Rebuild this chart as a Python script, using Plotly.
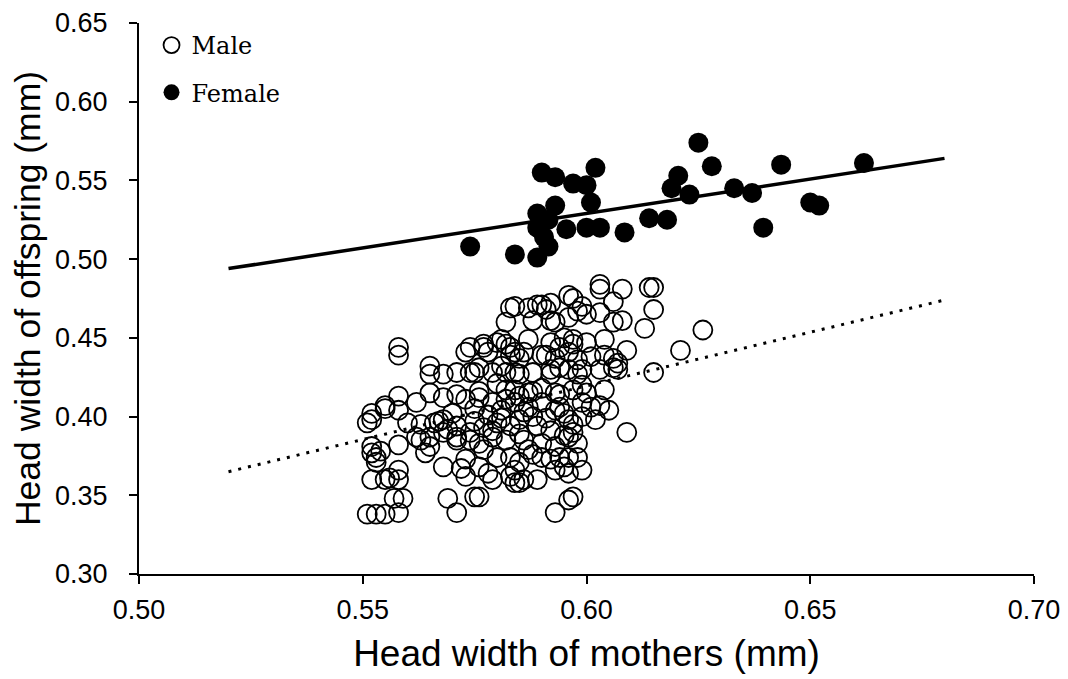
import plotly.graph_objects as go

# Female (filled circles)
female_x = [0.574, 0.584, 0.589, 0.590, 0.593, 0.597, 0.600, 0.602, 0.601, 0.589, 0.593,
            0.5915, 0.589, 0.5955, 0.600, 0.603, 0.5905, 0.5915, 0.6085, 0.614, 0.618,
            0.619, 0.6205, 0.623, 0.625, 0.628, 0.633, 0.637, 0.6395, 0.6435, 0.650,
            0.652, 0.662]
female_y = [0.508, 0.503, 0.501, 0.555, 0.552, 0.548, 0.547, 0.558, 0.536, 0.529, 0.534,
            0.525, 0.520, 0.519, 0.520, 0.520, 0.514, 0.508, 0.517, 0.526, 0.525,
            0.545, 0.553, 0.541, 0.574, 0.559, 0.545, 0.542, 0.520, 0.560, 0.536,
            0.534, 0.561]

# Male (open circles)
male_x = [0.584, 0.582, 0.558, 0.558, 0.573, 0.577, 0.580, 0.582, 0.578, 0.584,
          0.565, 0.565, 0.568, 0.571, 0.574, 0.576, 0.579, 0.581, 0.584, 0.580,
          0.558, 0.555, 0.552, 0.551, 0.562, 0.565, 0.568, 0.571, 0.573, 0.576,
          0.579, 0.582, 0.585, 0.560, 0.563, 0.567, 0.569, 0.571, 0.575, 0.577,
          0.580, 0.583, 0.552, 0.553, 0.553, 0.558, 0.563, 0.565, 0.571, 0.574,
          0.576, 0.579, 0.582, 0.568, 0.573, 0.576, 0.578, 0.579, 0.584, 0.584,
          0.552, 0.555, 0.558, 0.558, 0.557, 0.559, 0.569, 0.575, 0.576, 0.551,
          0.553, 0.555, 0.558, 0.571, 0.552, 0.555, 0.558, 0.566, 0.568, 0.552,
          0.554, 0.562, 0.565, 0.568, 0.571, 0.564, 0.572, 0.556, 0.603, 0.603,
          0.608, 0.614, 0.615, 0.587, 0.590, 0.592, 0.596, 0.597, 0.599, 0.603,
          0.606, 0.615, 0.588, 0.592, 0.596, 0.600, 0.606, 0.608, 0.613, 0.581,
          0.583, 0.587, 0.592, 0.595, 0.597, 0.597, 0.600, 0.604, 0.609, 0.583,
          0.585, 0.590, 0.593, 0.596, 0.598, 0.601, 0.604, 0.606, 0.582, 0.585,
          0.588, 0.592, 0.594, 0.596, 0.599, 0.603, 0.607, 0.615, 0.584, 0.587,
          0.590, 0.593, 0.597, 0.599, 0.600, 0.604, 0.584, 0.587, 0.590, 0.594,
          0.599, 0.601, 0.603, 0.605, 0.581, 0.585, 0.588, 0.591, 0.596, 0.599,
          0.602, 0.586, 0.590, 0.595, 0.596, 0.597, 0.598, 0.609, 0.583, 0.585,
          0.588, 0.592, 0.596, 0.598, 0.586, 0.589, 0.593, 0.596, 0.599, 0.596,
          0.597, 0.593, 0.607, 0.621, 0.606, 0.626, 0.590, 0.585, 0.583, 0.573,
          0.594, 0.595, 0.587, 0.580, 0.577, 0.593, 0.595, 0.583, 0.589, 0.591,
          0.593, 0.598, 0.577, 0.586, 0.591, 0.594, 0.574, 0.575, 0.592, 0.598,
          0.576, 0.582, 0.588, 0.594, 0.575, 0.578, 0.586, 0.589, 0.592, 0.579,
          0.574, 0.585, 0.597, 0.593, 0.581, 0.570]
male_y = [0.470, 0.460, 0.444, 0.439, 0.441, 0.444, 0.447, 0.446, 0.441, 0.441,
          0.432, 0.427, 0.427, 0.428, 0.428, 0.431, 0.428, 0.432, 0.428, 0.421,
          0.413, 0.407, 0.402, 0.396, 0.409, 0.415, 0.412, 0.414, 0.411, 0.412,
          0.409, 0.411, 0.413, 0.396, 0.395, 0.397, 0.392, 0.394, 0.397, 0.393,
          0.396, 0.394, 0.381, 0.374, 0.371, 0.382, 0.385, 0.381, 0.385, 0.385,
          0.383, 0.387, 0.385, 0.368, 0.373, 0.368, 0.364, 0.360, 0.366, 0.358,
          0.360, 0.360, 0.366, 0.360, 0.348, 0.348, 0.348, 0.349, 0.349, 0.338,
          0.338, 0.338, 0.339, 0.339, 0.398, 0.405, 0.404, 0.396, 0.398, 0.377,
          0.378, 0.387, 0.387, 0.390, 0.387, 0.377, 0.367, 0.361, 0.484, 0.481,
          0.481, 0.482, 0.482, 0.469, 0.471, 0.472, 0.477, 0.475, 0.470, 0.466,
          0.473, 0.468, 0.461, 0.461, 0.463, 0.465, 0.460, 0.461, 0.456, 0.449,
          0.444, 0.449, 0.447, 0.450, 0.449, 0.446, 0.447, 0.449, 0.442, 0.439,
          0.437, 0.439, 0.437, 0.441, 0.436, 0.438, 0.439, 0.437, 0.428, 0.427,
          0.428, 0.430, 0.431, 0.430, 0.430, 0.430, 0.430, 0.428, 0.417, 0.415,
          0.418, 0.415, 0.417, 0.420, 0.415, 0.417, 0.409, 0.406, 0.409, 0.406,
          0.409, 0.406, 0.407, 0.404, 0.399, 0.398, 0.400, 0.399, 0.398, 0.400,
          0.398, 0.385, 0.383, 0.388, 0.387, 0.390, 0.383, 0.390, 0.374, 0.371,
          0.376, 0.373, 0.374, 0.374, 0.360, 0.360, 0.366, 0.364, 0.366, 0.347,
          0.349, 0.339, 0.434, 0.442, 0.431, 0.455, 0.374, 0.358, 0.362, 0.362,
          0.374, 0.368, 0.379, 0.374, 0.379, 0.381, 0.402, 0.469, 0.471, 0.468,
          0.460, 0.467, 0.446, 0.441, 0.439, 0.444, 0.444, 0.428, 0.427, 0.427,
          0.416, 0.417, 0.416, 0.414, 0.405, 0.401, 0.403, 0.394, 0.391, 0.391,
          0.390, 0.389, 0.395, 0.404, 0.404, 0.402]

# Regression lines
line_x = [0.52, 0.68]
female_fit = [0.494, 0.564]
male_fit = [0.365, 0.474]

x_ticks = [0.50, 0.55, 0.60, 0.65, 0.70]
y_ticks = [0.30, 0.35, 0.40, 0.45, 0.50, 0.55, 0.60, 0.65]

fig = go.Figure()
fig.add_trace(go.Scatter(x=line_x, y=male_fit, mode="lines", showlegend=False,
                         line=dict(color="black", width=3, dash="3px,7px"),
                         hoverinfo="skip"))
fig.add_trace(go.Scatter(x=line_x, y=female_fit, mode="lines", showlegend=False,
                         line=dict(color="black", width=3.5), hoverinfo="skip"))
fig.add_trace(go.Scatter(x=male_x, y=male_y, mode="markers", name="Male",
                         legendgroup="m",
                         marker=dict(symbol="circle-open", size=19, color="black",
                                     line=dict(width=1.8, color="black"))))
fig.add_trace(go.Scatter(x=female_x, y=female_y, mode="markers", name="Female",
                         legendgroup="f",
                         marker=dict(symbol="circle", size=20, color="black")))

sans = "Arial, Liberation Sans, sans-serif"
tick_font = dict(family=sans, size=27, color="black")
fig.update_layout(
    width=1060, height=671,
    margin=dict(l=131, r=34, t=15, b=105),
    paper_bgcolor="white", plot_bgcolor="white",
    font=tick_font,
    showlegend=True,
    legend=dict(x=0.014, y=1.0, xanchor="left", yanchor="top",
                font=dict(family="Century Schoolbook, DejaVu Serif, serif", size=24, color="black"),
                bgcolor="rgba(0,0,0,0)", itemsizing="trace",
                traceorder="grouped", tracegroupgap=13),
    xaxis=dict(range=[0.50, 0.70], tickvals=x_ticks, tickformat=".2f",
               showline=True, linecolor="black", linewidth=2,
               ticks="outside", ticklen=8, tickwidth=2, tickcolor="black",
               ticklabelstandoff=3, automargin=False,
               showgrid=False, zeroline=False, tickfont=tick_font,
               title=dict(text="Head width of mothers (mm)", standoff=16,
                          font=dict(family=sans, size=37, color="black"))),
    yaxis=dict(range=[0.30, 0.65], tickvals=y_ticks, tickformat=".2f",
               showline=True, linecolor="black", linewidth=2,
               ticks="outside", ticklen=8, tickwidth=2, tickcolor="black",
               ticklabelstandoff=16, automargin=False,
               showgrid=False, zeroline=False, tickfont=tick_font,
               title=dict(text="Head width of offspring (mm)", standoff=13,
                          font=dict(family=sans, size=35.5, color="black"))),
)

fig.write_html("out.html")
